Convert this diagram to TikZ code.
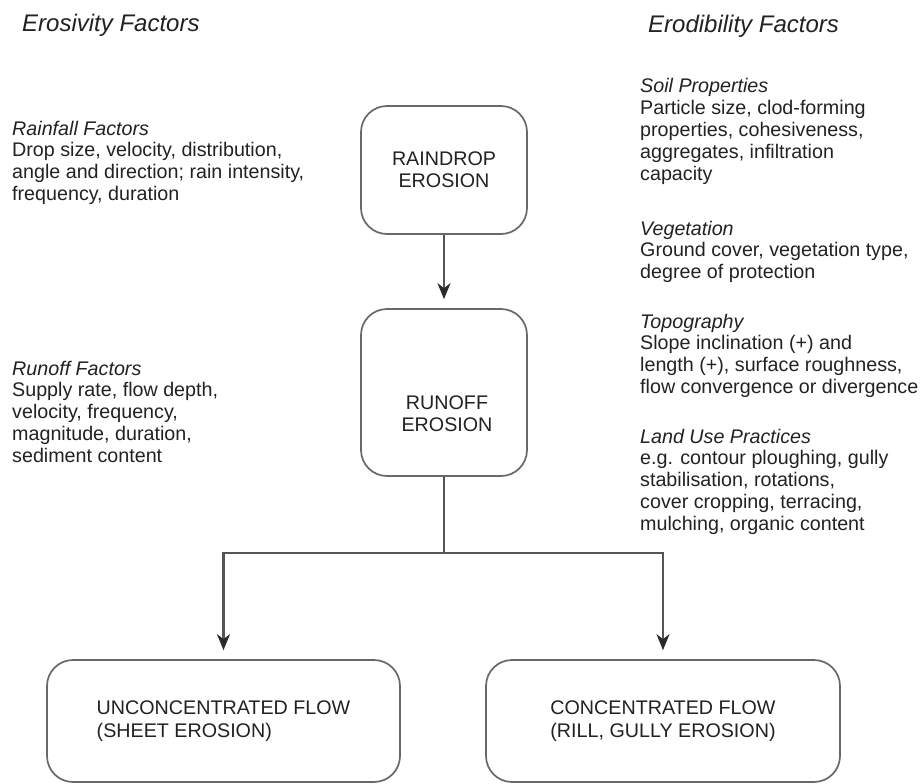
\documentclass[tikz,border=0pt]{standalone}
\usepackage{fontspec}
\setmainfont{Liberation Sans}
\usetikzlibrary{arrows.meta}
\definecolor{txtc}{HTML}{222222}
\definecolor{linec}{HTML}{555555}
\definecolor{tipc}{HTML}{2A2A2A}
\definecolor{boxc}{HTML}{686868}
\begin{document}
\begin{tikzpicture}[x=1pt,y=-1pt,
  body/.style={anchor=north west, inner sep=0pt, align=left, text=txtc,
    font=\fontsize{19.7}{21.9}\selectfont},
  heading/.style={anchor=base west, inner sep=0pt, text=txtc,
    font=\fontsize{24}{28}\selectfont\itshape},
  box/.style={draw=boxc, line width=1.7pt, rounded corners=26pt, fill=white,
    text=txtc, font=\fontsize{19.7}{22}\selectfont, align=center, inner sep=0pt},
  boxtext/.style={inner sep=0pt, text=txtc, align=center,
    font=\fontsize{19.7}{22}\selectfont},
  conn/.style={draw=linec, line width=2.2pt},
  arr/.style={conn, -{Stealth[length=16pt,width=13pt,inset=5pt,fill=tipc,color=tipc]}, shorten >=9pt}]
\fill[white] (0,0) rectangle (922,784);
\useasboundingbox (0,0) rectangle (922,784);

% headings
\node[heading] (erosivity) at (22,32) {Erosivity Factors};
\node[heading] (erodibility) at (648,33) {Erodibility Factors};

% left factor blocks
\node[body] (rainfall) at (12,120.6) {{\itshape Rainfall Factors}\\
  Drop size, velocity, distribution,\\
  angle and direction; rain intensity,\\
  frequency, duration};
\node[body] (runofffac) at (12,360.6) {{\itshape Runoff Factors}\\
  Supply rate, flow depth,\\
  velocity, frequency,\\
  magnitude, duration,\\
  sediment content};

% right factor blocks
\node[body] (soil) at (640,78.3) {{\itshape Soil Properties}\\
  Particle size, clod-forming\\
  properties, cohesiveness,\\
  aggregates, infiltration\\
  capacity};
\node[body] (veg) at (640,220.6) {{\itshape Vegetation}\\
  Ground cover, vegetation type,\\
  degree of protection};
\node[body] (topo) at (640,313.6) {{\itshape Topography}\\
  Slope inclination (+) and\\
  length (+), surface roughness,\\
  flow convergence or divergence};
\node[body] (land) at (640,428.6) {{\itshape Land Use Practices}\\
  e.g. contour ploughing, gully\\
  stabilisation, rotations,\\
  cover cropping, terracing,\\
  mulching, organic content};

% process boxes
\node[box, minimum width=166, minimum height=128] (raindrop) at (444,170)
  {RAINDROP\\EROSION};
\node[box, minimum width=166, minimum height=167] (runoff) at (444,392.5) {};
\node[boxtext] (runofflabel) at (447,414) {RUNOFF\\EROSION};
\node[box, minimum width=353, minimum height=122, align=left] (sheet)
  at (223.5,721) {UNCONCENTRATED FLOW\\[1pt](SHEET EROSION)};
\node[box, minimum width=354, minimum height=122, align=left] (rill)
  at (663,721) {CONCENTRATED FLOW\\[1pt](RILL, GULLY EROSION)};

% connectors
\draw[arr] (raindrop) -- (runoff);
\coordinate (splitref) at (0,553);
\coordinate (split) at (runoff.south |- splitref);
\draw[conn] (runoff.south) -- (split);
\draw[arr] (split) -| (sheet.north);
\draw[arr] (split) -| (rill.north);
\end{tikzpicture}
\end{document}
